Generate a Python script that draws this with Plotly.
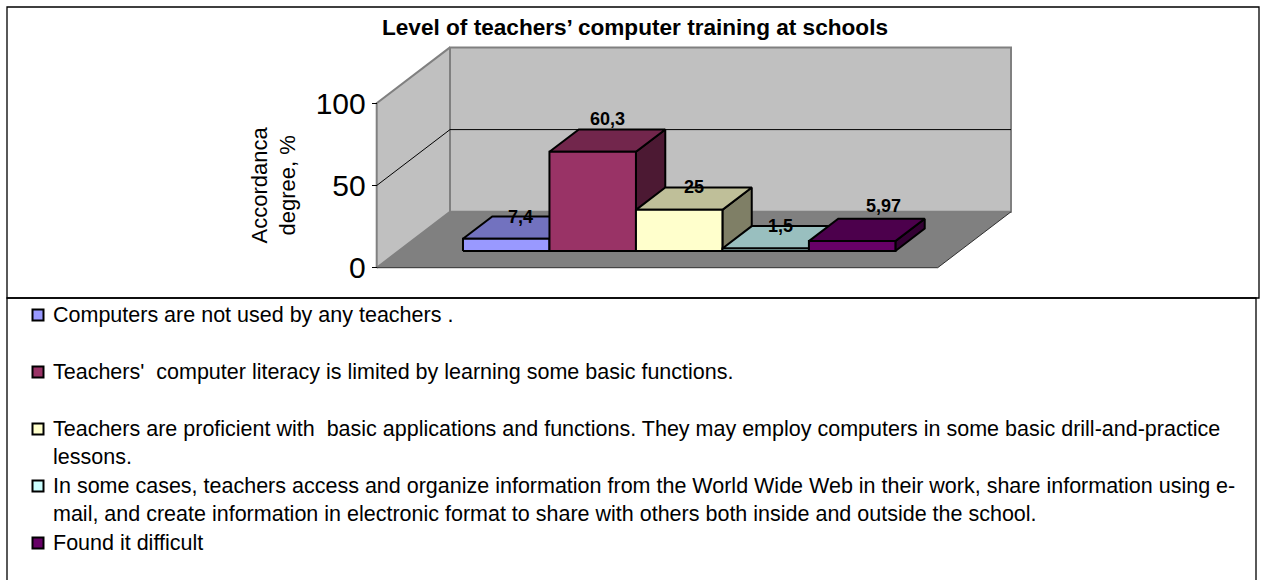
import plotly.graph_objects as go

# data
SERIES = [
    "Computers are not used by any teachers .",
    "Teachers'  computer literacy is limited by learning some basic functions.",
    "Teachers are proficient with  basic applications and functions. They may employ computers in some basic drill-and-practice<br>lessons.",
    "In some cases, teachers access and organize information from the World Wide Web in their work, share information using e-<br>mail, and create information in electronic format to share with others both inside and outside the school.",
    "Found it difficult",
]
VALUES = [7.4, 60.3, 25, 1.5, 5.97]
Y_TICKS = [0, 50, 100]
Y_MAX = 100
TITLE = "Level of teachers’ computer training at schools"
Y_TITLE = "Accordanca<br>degree, %"

COLORS = ["#9999FF", "#993366", "#FFFFCC", "#CCFFFF", "#660066"]
FONT = "Liberation Sans, Arial, sans-serif"

W, H = 1263, 580
# pixel scale of the pseudo 3d chart
OX, OY = 376.7, 267.7          # front-left corner of the floor (px)
KX, KY = 561.0, 1.644          # px per category width / px per value unit
DEPTH_X, DEPTH_Y = 73.3 / KX, 34.0   # full depth offset in axis units
GAP = 0.1146                   # empty floor each side of the cluster
BAR_D0, BAR_D1 = 0.3, 0.7      # bar depth inside the floor
LABEL_SHIFT_X = [0, 0, 0, 0, 17]
LABEL_SHIFT_Y = [11, 22, 12, 11, 24]


def shade(hex_color, f):
    r, g, b = (int(hex_color[i:i + 2], 16) for i in (1, 3, 5))
    return "rgb(%d,%d,%d)" % (r * f, g * f, b * f)


def proj(x, y, d):
    return x + d * DEPTH_X, y + d * DEPTH_Y


def face(points, fill, line_color="black", width=2):
    pts = [proj(*p) for p in points]
    pts.append(pts[0])
    return go.Scatter(
        x=[p[0] for p in pts], y=[p[1] for p in pts],
        mode="lines", fill="toself", fillcolor=fill,
        line=dict(color=line_color, width=width),
        hoverinfo="skip", showlegend=False,
    )


def edge(points, color, width):
    pts = [proj(*p) for p in points]
    return go.Scatter(
        x=[p[0] for p in pts], y=[p[1] for p in pts], mode="lines",
        line=dict(color=color, width=width), hoverinfo="skip", showlegend=False,
    )


fig = go.Figure()

# floor and walls
fig.add_trace(face([(0, 0, 0), (1, 0, 0), (1, 0, 1), (0, 0, 1)], "#808080", "#808080", 0.1))
fig.add_trace(face([(0, 0, 0), (0, 0, 1), (0, Y_MAX, 1), (0, Y_MAX, 0)], "#C0C0C0", "#808080", 2))
fig.add_trace(face([(0, 0, 1), (1, 0, 1), (1, Y_MAX, 1), (0, Y_MAX, 1)], "#C0C0C0", "#808080", 2))
for t in Y_TICKS[1:-1]:
    fig.add_trace(edge([(0, t, 0), (0, t, 1), (1, t, 1)], "black", 1))
fig.add_trace(edge([(0, 0, 0), (1, 0, 0), (1, 0, 1)], "#303030", 1))

# bars
bw = (1 - 2 * GAP) / len(VALUES)
for i, (v, c) in enumerate(zip(VALUES, COLORS)):
    x0 = GAP + i * bw
    x1 = x0 + bw
    fig.add_trace(face([(x1, 0, BAR_D0), (x1, 0, BAR_D1), (x1, v, BAR_D1), (x1, v, BAR_D0)], shade(c, 0.5)))
    fig.add_trace(face([(x0, v, BAR_D0), (x1, v, BAR_D0), (x1, v, BAR_D1), (x0, v, BAR_D1)], shade(c, 0.75)))
    fig.add_trace(face([(x0, 0, BAR_D0), (x1, 0, BAR_D0), (x1, v, BAR_D0), (x0, v, BAR_D0)], c))

    lx, ly = proj((x0 + x1) / 2, v, (BAR_D0 + BAR_D1) / 2)
    fig.add_annotation(
        x=lx, y=ly, text=("%g" % v).replace(".", ","), showarrow=False,
        xshift=LABEL_SHIFT_X[i], yshift=LABEL_SHIFT_Y[i],
        font=dict(family=FONT, size=18, color="black", weight="bold"),
    )

# frames
fig.add_shape(type="rect", xref="paper", yref="paper",
              x0=7 / W, x1=1259 / W, y0=1 - 298 / H, y1=1 - 7 / H,
              line=dict(color="black", width=1.3), layer="below")
fig.add_shape(type="rect", xref="paper", yref="paper",
              x0=7 / W, x1=1256 / W, y0=-0.05, y1=1 - 298 / H,
              line=dict(color="black", width=1.3), layer="below")

fig.add_annotation(
    x=634.5 / W, y=1 - 27 / H, xref="paper", yref="paper", text="<b>%s</b>" % TITLE,
    xanchor="center", yanchor="middle",
    showarrow=False, font=dict(family=FONT, size=22.6, color="black"),
)
fig.add_annotation(
    x=273 / W, y=50, xref="paper", yref="y", text=Y_TITLE, textangle=-90,
    xanchor="center", yanchor="middle",
    showarrow=False, font=dict(family=FONT, size=22, color="black"),
)

# legend box
for i, (name, c) in enumerate(zip(SERIES, COLORS)):
    cy = 315 + 57 * i
    fig.add_shape(type="rect", xref="paper", yref="paper",
                  x0=32.5 / W, x1=43.5 / W, y0=1 - (cy + 5.5) / H, y1=1 - (cy - 5.5) / H,
                  fillcolor=c, line=dict(color="black", width=2))
    fig.add_annotation(
        x=51 / W, y=1 - (cy - 14.5) / H, xref="paper", yref="paper", text=name,
        xanchor="left", yanchor="top", align="left", showarrow=False,
        font=dict(family=FONT, size=21.5, color="black"),
    )

fig.update_layout(
    width=W, height=H, autosize=False,
    margin=dict(l=0, r=0, t=0, b=0),
    paper_bgcolor="white", plot_bgcolor="white",
    showlegend=False,
    xaxis=dict(visible=False, range=[-OX / KX, (W - OX) / KX], domain=[0, 1]),
    yaxis=dict(
        range=[-(H - OY) / KY, OY / KY], domain=[0, 1],
        anchor="free", position=OX / W,
        tickvals=Y_TICKS, ticks="outside", ticklen=5, tickcolor="black",
        showgrid=False, zeroline=False, showline=False,
        tickfont=dict(family=FONT, size=30, color="black"),
    ),
)

fig.write_html("out.html", config={"displayModeBar": False},
               post_script="document.body.style.margin='0';")
